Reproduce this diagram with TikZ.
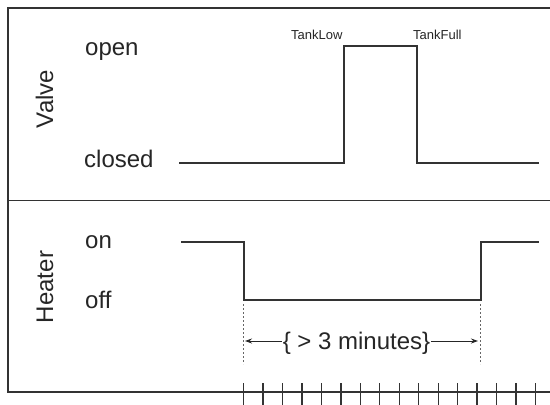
\documentclass[tikz,border=0pt]{standalone}
\usepackage{fontspec}
\setmainfont{Liberation Sans}
\usetikzlibrary{arrows.meta}
\begin{document}
\begin{tikzpicture}[x=1pt,y=-1pt,
  frame/.style={line width=1.4pt,draw=black!80},
  signal/.style={line width=2pt,draw=black!80,line join=miter},
  lbl/.style={font=\fontsize{24}{28}\selectfont,inner sep=0pt,anchor=base west,text=black!85},
  side/.style={font=\fontsize{24}{28}\selectfont,inner sep=0pt,anchor=base,rotate=90,text=black!85},
  evt/.style={font=\fontsize{13}{15}\selectfont,inner sep=0pt,anchor=base west,text=black!85},
  guide/.style={line width=0.8pt,draw=black!60,dash pattern=on 2pt off 2pt},
  dimarrow/.style={line width=1pt,draw=black!85,-{Stealth[length=7pt,width=5pt]}},
  tick/.style={line width=1.4pt,draw=black!80}]
\useasboundingbox (0,0) rectangle (550,405);
\fill[white] (0,0) rectangle (550,405);
% frame
\draw[frame] (550,8) -- (8,8) -- (8,392) -- (550,392);
\draw[frame] (8,200.5) -- (550,200.5);
% labels
\node[side] (valve) at (53,99) {Valve};
\node[side] (heater) at (53,287) {Heater};
\node[lbl] (open) at (85,55) {open};
\node[lbl] (closed) at (84,167) {closed};
\node[lbl] (on) at (85,248) {on};
\node[lbl] (off) at (85,308) {off};
\node[evt] (tanklow) at (291,39) {TankLow};
\node[evt] (tankfull) at (413,39) {TankFull};
% valve signal
\coordinate (v0) at (179,162.5);
\coordinate (v1) at (343.5,162.5);
\coordinate (v2) at (343.5,46);
\coordinate (v3) at (417,46);
\coordinate (v4) at (417,162.5);
\coordinate (v5) at (539,162.5);
\draw[signal] (v0) -- (v1) -- (v2) -- (v3) -- (v4) -- (v5);
% heater signal
\coordinate (h0) at (181,242);
\coordinate (h1) at (243.5,242);
\coordinate (h2) at (243.5,300);
\coordinate (h3) at (480.5,300);
\coordinate (h4) at (480.5,242);
\coordinate (h5) at (539,242);
\draw[signal] (h0) -- (h1) -- (h2) -- (h3) -- (h4) -- (h5);
% duration
\coordinate (d0) at (243.5,304);
\coordinate (d0e) at (243.5,364);
\coordinate (d1) at (480.5,304);
\coordinate (d1e) at (480.5,364);
\draw[guide] (d0) -- (d0e);
\draw[guide] (d1) -- (d1e);
\node[font=\fontsize{24}{28}\selectfont,inner sep=1pt,text=black!85] (dur) at (356.5,343) {\{ > 3 minutes\}};
\coordinate (al) at (245,341);
\coordinate (ar) at (478,341);
\draw[dimarrow] (dur.west |- al) -- (al);
\draw[dimarrow] (dur.east |- ar) -- (ar);
% ticks
\foreach \i in {0,...,15}{
  \draw[tick] ({243.5+\i*19.47},383) -- ({243.5+\i*19.47},405);
}
\end{tikzpicture}
\end{document}
